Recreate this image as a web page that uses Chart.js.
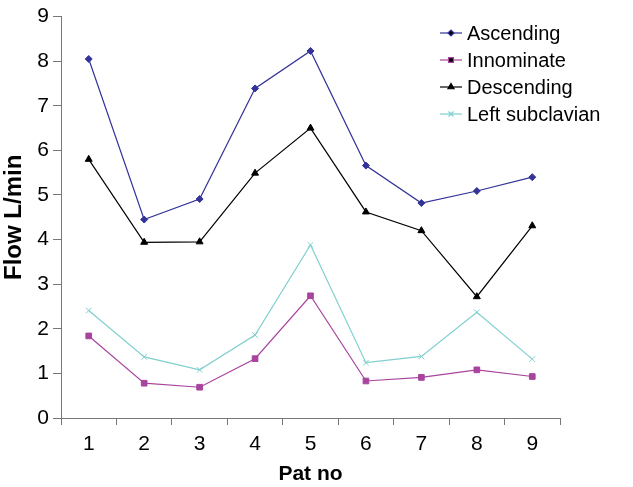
<!DOCTYPE html>
<html>
<head>
<meta charset="utf-8">
<script src="https://cdn.jsdelivr.net/npm/chart.js@4"></script>
<style>
  html, body { margin: 0; padding: 0; background: #fff; }
  #wrap { width: 633px; height: 487px; position: relative; }
</style>
</head>
<body>
<div id="wrap"><canvas id="chart"></canvas></div>
<script>
const patients = ['1', '2', '3', '4', '5', '6', '7', '8', '9'];
const ascending = [8.05, 4.45, 4.91, 7.39, 8.23, 5.66, 4.82, 5.09, 5.40];
const innominate = [1.84, 0.78, 0.69, 1.33, 2.74, 0.83, 0.91, 1.08, 0.93];
const descending = [5.80, 3.94, 3.95, 5.49, 6.50, 4.62, 4.20, 2.72, 4.31];
const leftSubclavian = [2.41, 1.37, 1.08, 1.86, 3.88, 1.24, 1.38, 2.37, 1.32];
const yTicks = [0, 1, 2, 3, 4, 5, 6, 7, 8, 9];

const FONT = 'Liberation Sans, Arial, Helvetica, sans-serif';

// legend drawn inside the plot, top right
const innerLegend = {
    id: 'innerLegend',
    afterDraw(chart) {
        const ctx = chart.ctx;
        const x0 = 440, y0 = 33, gap = 27;
        ctx.save();
        chart.data.datasets.forEach((ds, i) => {
            const y = y0 + i * gap;
            ctx.strokeStyle = ds.borderColor;
            ctx.lineWidth = 1.2;
            ctx.beginPath();
            ctx.moveTo(x0, y);
            ctx.lineTo(x0 + 22, y);
            ctx.stroke();
            Chart.helpers.drawPoint(ctx, {
                pointStyle: ds.pointStyle,
                radius: ds.pointRadius - 0.5,
                borderWidth: 1
            }, x0 + 11, y);
            ctx.fillStyle = '#000';
            ctx.font = '20px ' + FONT;
            ctx.textBaseline = 'middle';
            ctx.textAlign = 'left';
            ctx.fillText(ds.label, x0 + 27, y + 1);
        });
        ctx.restore();
    }
};

function series(label, data, color, style, radius) {
    return {
        label: label,
        data: data,
        borderColor: color,
        backgroundColor: color,
        borderWidth: 1.2,
        pointStyle: style,
        pointRadius: radius,
        pointBorderWidth: 1,
        tension: 0
    };
}

new Chart(document.getElementById('chart'), {
    type: 'line',
    data: {
        labels: patients,
        datasets: [
            series('Ascending', ascending, '#33339a', 'rectRot', 3.5),
            series('Innominate', innominate, '#a8449e', 'rect', 4),
            series('Descending', descending, '#000000', 'triangle', 4),
            series('Left subclavian', leftSubclavian, '#80cfcf', 'crossRot', 4)
        ]
    },
    options: {
        responsive: true,
        maintainAspectRatio: false,
        animation: false,
        layout: { padding: { left: 0, right: 73, top: 11, bottom: 0 } },
        plugins: {
            legend: { display: false },
            tooltip: { enabled: false }
        },
        scales: {
            x: {
                offset: true,
                grid: {
                    offset: true,
                    drawOnChartArea: false,
                    drawTicks: true,
                    tickLength: 7,
                    color: '#777'
                },
                border: { color: '#777', width: 1 },
                ticks: {
                    color: '#000',
                    font: { family: FONT, size: 21 },
                    padding: 7,
                    maxRotation: 0
                },
                title: {
                    display: true,
                    text: 'Pat no',
                    color: '#000',
                    font: { family: FONT, size: 21, weight: 'bold' },
                    padding: { top: 1, bottom: 0 }
                },
                afterFit(scale) { scale.height = 69; }
            },
            y: {
                min: 0,
                max: 9,
                afterBuildTicks(scale) {
                    scale.ticks = yTicks.map(v => ({ value: v }));
                },
                grid: {
                    drawOnChartArea: false,
                    drawTicks: true,
                    tickLength: 8,
                    color: '#777'
                },
                border: { color: '#777', width: 1 },
                ticks: {
                    color: '#000',
                    font: { family: FONT, size: 21 },
                    padding: 4
                },
                title: {
                    display: true,
                    text: 'Flow L/min',
                    color: '#000',
                    font: { family: FONT, size: 24, weight: 'bold' },
                    padding: { top: 0, bottom: 2 }
                },
                afterFit(scale) { scale.width = 61; }
            }
        }
    },
    plugins: [innerLegend]
});
</script>
</body>
</html>
